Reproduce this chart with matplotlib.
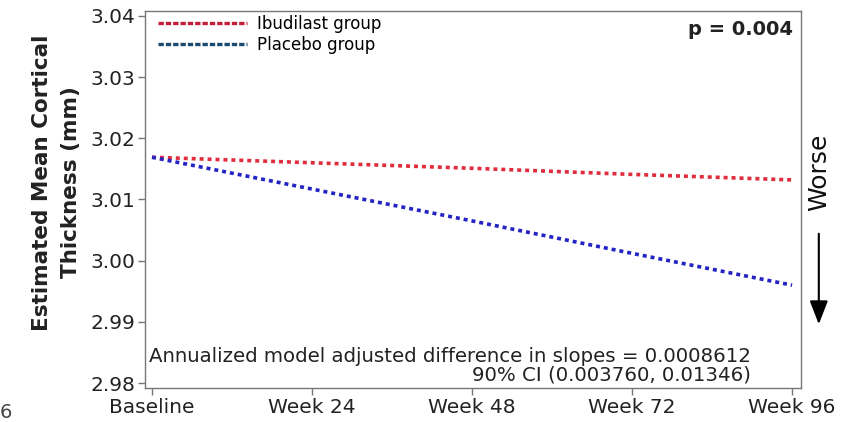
import matplotlib.pyplot as plt
from matplotlib.lines import Line2D
from matplotlib.patches import FancyArrowPatch

plt.rcParams['font.family'] = ['DejaVu Sans']

# data
weeks = [0, 24, 48, 72, 96]
week_labels = ['Baseline', 'Week 24', 'Week 48', 'Week 72', 'Week 96']
ibudilast = [3.0169, 3.0160, 3.0151, 3.0141, 3.0132]
placebo = [3.0169, 3.0117, 3.0065, 3.0012, 2.9960]
y_ticks = [2.98, 2.99, 3.00, 3.01, 3.02, 3.03, 3.04]

fig = plt.figure(figsize=(8.61, 4.22), dpi=100)
ax = fig.add_axes([0.1684, 0.0806, 0.7616, 0.8934])

dots = (0, (1.1, 1.1))
ax.plot(weeks, ibudilast, color='#e02c3c', lw=2.6, linestyle=dots)
ax.plot(weeks, placebo, color='#2424c4', lw=2.6, linestyle=dots)

ax.set_xlim(-1.05, 97.3)
ax.set_ylim(2.9792, 3.0408)
ax.set_xticks(weeks)
ax.set_xticklabels(week_labels)
ax.set_yticks(y_ticks)
ax.set_yticklabels([f'{v:.2f}' for v in y_ticks])
ax.tick_params(labelsize=14.5, color='#777777', length=5, width=1, pad=2, labelcolor='#222222')
for s in ax.spines.values():
    s.set_color('#777777')
    s.set_linewidth(1)

ax.set_ylabel('Estimated Mean Cortical\nThickness (mm)', fontsize=15.5, fontweight='bold',
              color='#222222', linespacing=1.55)
ax.yaxis.set_label_coords(-0.098, 0.545)

# legend
handles = [Line2D([], [], color='#c41e3a', lw=2.4, linestyle=(0, (1.6, 0.6))),
           Line2D([], [], color='#1b4a72', lw=2.4, linestyle=(0, (1.6, 0.6)))]
ax.legend(handles, ['Ibudilast group', 'Placebo group'], loc='upper left', frameon=False,
          fontsize=12, handlelength=5.3, handletextpad=0.6, borderaxespad=0.0,
          labelspacing=0.22, bbox_to_anchor=(0.01, 1.008))

ax.text(0.988, 0.975, 'p = 0.004', transform=ax.transAxes, ha='right', va='top',
        fontsize=14, fontweight='bold', color='#222222')
ax.text(0.924, 0.01, 'Annualized model adjusted difference in slopes = 0.0008612\n'
        '90% CI (0.003760, 0.01346)', transform=ax.transAxes, ha='right', va='bottom',
        fontsize=14.2, color='#222222', multialignment='right', linespacing=0.95)

# worse arrow
fig.text(0.951, 1 - 172 / 422, 'Worse', rotation=90, ha='center', va='center', fontsize=18, color='#111111')
fig.patches.append(FancyArrowPatch(
    (0.951, 1 - 231 / 422), (0.951, 1 - 327 / 422), transform=fig.transFigure,
    arrowstyle='-|>,head_length=0.9,head_width=0.35', mutation_scale=16, color='black', lw=1.5))

fig.text(0.0, 0.0, '6', fontsize=14, color='#444444', ha='left', va='bottom')

fig.savefig('out.png', dpi=100)
